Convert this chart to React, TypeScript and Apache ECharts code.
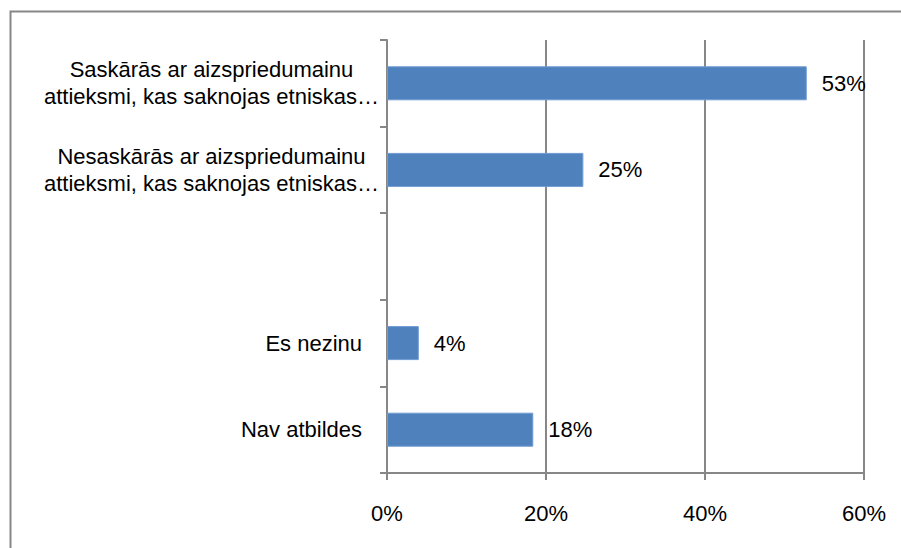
import React, { useEffect, useRef } from "react";
import * as echarts from "echarts";

const categories: string[] = [
  "Saskārās ar aizspriedumainu\nattieksmi, kas saknojas etniskas…",
  "Nesaskārās ar aizspriedumainu\nattieksmi, kas saknojas etniskas…",
  "",
  "Es nezinu",
  "Nav atbildes",
];
const values: (number | null)[] = [52.8, 24.7, null, 4.0, 18.4];
const xTicks: number[] = [0, 20, 40, 60];

const FONT = "'Liberation Sans', Arial, sans-serif";
const GRAY = "#878787";

export default function App() {
  const ref = useRef<HTMLDivElement>(null);
  useEffect(() => {
    if (!ref.current) return;
    const chart = echarts.init(ref.current, null, { renderer: "svg" });
    chart.setOption({
      animation: false,
      backgroundColor: "#ffffff",
      graphic: [
        {
          type: "rect",
          shape: { x: 10.5, y: 11.5, width: 1000, height: 1000 },
          style: { fill: "none", stroke: GRAY, lineWidth: 2 },
          silent: true,
        },
      ],
      grid: { left: 387, right: 37, top: 40, bottom: 75, containLabel: false },
      xAxis: {
        type: "value",
        min: xTicks[0],
        max: xTicks[xTicks.length - 1],
        interval: 20,
        axisLine: { show: true, lineStyle: { color: GRAY, width: 2 } },
        axisTick: { show: true, length: 7, inside: false, lineStyle: { color: GRAY, width: 2 } },
        splitLine: { show: true, lineStyle: { color: GRAY, width: 2 } },
        axisLabel: {
          margin: 29,
          fontSize: 22,
          fontFamily: FONT,
          color: "#000",
          formatter: (v: number) => `${v}%`,
        },
      },
      yAxis: {
        type: "category",
        data: categories,
        inverse: true,
        axisLine: { show: true, lineStyle: { color: GRAY, width: 2 } },
        axisTick: { show: true, length: 7, lineStyle: { color: GRAY, width: 2 } },
        splitLine: { show: false },
        axisLabel: {
          margin: 8,
          fontSize: 22,
          fontFamily: FONT,
          color: "#000",
          lineHeight: 27,
          formatter: (v: string) => {
            if (!v) return "";
            const lines = v.split("\n");
            if (lines.length === 1) return `{s|${v}}`;
            return lines.map((l) => `{c|${l}}`).join("\n");
          },
          rich: {
            c: { align: "center", fontSize: 22, fontFamily: FONT, color: "#000", lineHeight: 27 },
            s: { fontSize: 22, fontFamily: FONT, color: "#000", padding: [0, 17, 0, 0] },
          },
        },
      },
      series: [
        {
          type: "bar",
          data: values,
          barWidth: 34,
          itemStyle: { color: "#4F81BD", borderColor: "#6F9BD3", borderWidth: 1 },
          label: {
            show: true,
            position: "right",
            distance: 15,
            fontSize: 22,
            fontFamily: FONT,
            color: "#000",
            formatter: (p: any) => `${Math.round(p.value)}%`,
          },
        },
      ],
    });
    return () => chart.dispose();
  }, []);
  return (
    <div
      ref={ref}
      style={{ position: "absolute", left: 0, top: 0, width: 901, height: 548 }}
    />
  );
}
